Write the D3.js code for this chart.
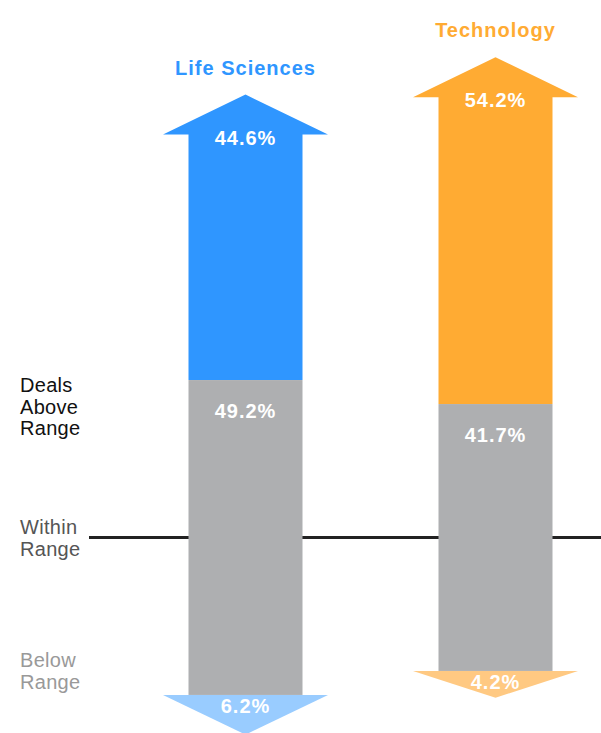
<!DOCTYPE html>
<html>
<head>
<meta charset="utf-8">
<script src="https://cdn.jsdelivr.net/npm/d3@7/dist/d3.min.js"></script>
<style>
  html, body { margin: 0; padding: 0; background: #fff; }
  svg { display: block; font-family: "Helvetica Neue", Helvetica, Arial, "Liberation Sans", sans-serif; }
</style>
</head>
<body>
<svg id="chart" width="601" height="733"></svg>
<script>
// Share of deals priced above, within and below the initial range
const categories = ["Life Sciences", "Technology"];
const aboveRange = [44.6, 54.2];
const withinRange = [49.2, 41.7];
const belowRange = [6.2, 4.2];
const rowLabels = [
  { lines: ["Deals", "Above", "Range"], color: "#111111", y: 392 },
  { lines: ["Within", "Range"], color: "#555555", y: 534 },
  { lines: ["Below", "Range"], color: "#999999", y: 667 }
];

const colors = {
  above: ["#2f96ff", "#ffab33"],
  within: "#aeafb1",
  below: ["#99ccff", "#ffc982"]
};

const svg = d3.select("#chart");
const width = 601;
const baselineY = 537.5;

const x = d3.scalePoint().domain(categories).range([245.5, 495.5]);
// length in pixels for a percentage
const len = d3.scaleLinear().domain([0, 100]).range([0, 640]);

const shaftHalf = 57, headHalf = 82.5, headH = 40;

// reference line through the middle of the "within range" band
svg.append("line")
  .attr("x1", 89).attr("x2", width)
  .attr("y1", baselineY).attr("y2", baselineY)
  .attr("stroke", "#222").attr("stroke-width", 3);

categories.forEach((c, i) => {
  const cx = x(c);
  const wTop = baselineY - len(withinRange[i]) / 2;
  const wBot = baselineY + len(withinRange[i]) / 2;
  const tip = wTop - len(aboveRange[i]);
  const downTip = wBot + len(belowRange[i]);

  // up arrow: deals above range
  const up = d3.path();
  up.moveTo(cx - shaftHalf, wTop);
  up.lineTo(cx - shaftHalf, tip + headH);
  up.lineTo(cx - headHalf, tip + headH);
  up.lineTo(cx, tip);
  up.lineTo(cx + headHalf, tip + headH);
  up.lineTo(cx + shaftHalf, tip + headH);
  up.lineTo(cx + shaftHalf, wTop);
  up.closePath();
  svg.append("path").attr("d", up.toString()).attr("fill", colors.above[i]);

  // within range block
  svg.append("rect")
    .attr("x", cx - shaftHalf).attr("y", wTop)
    .attr("width", shaftHalf * 2).attr("height", wBot - wTop)
    .attr("fill", colors.within);

  // down arrowhead: deals below range
  const down = d3.path();
  down.moveTo(cx - headHalf, wBot);
  down.lineTo(cx + headHalf, wBot);
  down.lineTo(cx, downTip);
  down.closePath();
  svg.append("path").attr("d", down.toString()).attr("fill", colors.below[i]);

  // category title
  svg.append("text")
    .attr("x", cx).attr("y", tip - 20)
    .attr("text-anchor", "middle")
    .attr("font-size", 20).attr("font-weight", "bold")
    .attr("letter-spacing", 1)
    .attr("fill", colors.above[i])
    .text(c);

  const fmt = v => v.toFixed(1) + "%";
  const valueLabel = (y, v) => svg.append("text")
    .attr("x", cx).attr("y", y)
    .attr("text-anchor", "middle")
    .attr("font-size", 20).attr("font-weight", "bold")
    .attr("letter-spacing", 1)
    .attr("fill", "#fff")
    .text(fmt(v));

  valueLabel(tip + 50, aboveRange[i]);
  valueLabel(wTop + 38, withinRange[i]);
  valueLabel(wBot + 18, belowRange[i]);
});

// row labels on the left
rowLabels.forEach(r => {
  const t = svg.append("text")
    .attr("x", 20).attr("y", r.y)
    .attr("font-size", 20)
    .attr("letter-spacing", 0.3)
    .attr("fill", r.color);
  r.lines.forEach((l, j) => {
    t.append("tspan").attr("x", 20).attr("dy", j === 0 ? 0 : 21.5).text(l);
  });
});
</script>
</body>
</html>
